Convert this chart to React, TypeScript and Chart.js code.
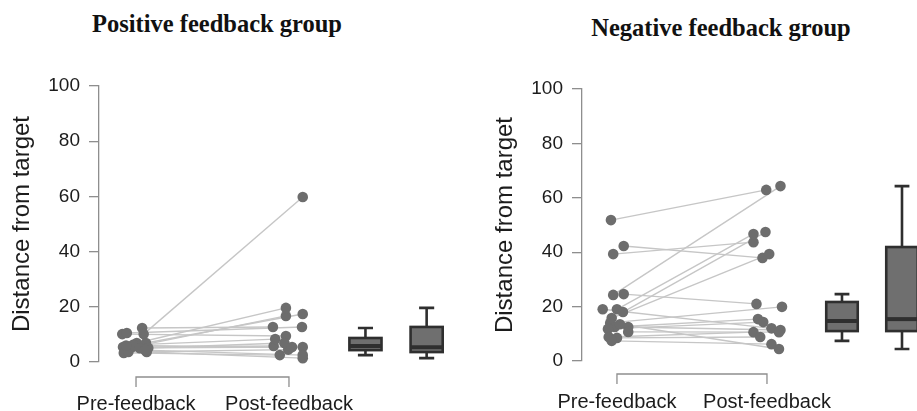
import React, { useEffect, useRef } from "react";
import { Chart, registerables } from "chart.js";

Chart.register(...registerables);

// ---------------- data ----------------
const categories = ["Pre-feedback", "Post-feedback"];
const yTicks = [0, 20, 40, 60, 80, 100];
const yLabel = "Distance from target";
const posTitle = "Positive feedback group";
const negTitle = "Negative feedback group";

// Positive feedback group (one entry per participant)
const posPre = [10.1, 10.5, 12.3, 10.1, 5.4, 3.3, 5.4, 6.9, 6.9, 5.1, 3.6, 3.6, 6.2, 5.0, 4.3, 6.0];
const posPost = [9.4, 12.7, 12.7, 59.8, 5.8, 2.5, 16.7, 19.6, 17.4, 5.4, 1.4, 4.5, 8.3, 6.9, 2.5, 5.4];
const posPreJitter = [-0.09, -0.06, 0.04, 0.05, -0.085, -0.08, -0.025, 0.005, 0.065, 0.08, 0.07, -0.05, -0.02, 0.025, 0.06, -0.065];
const posPostJitter = [-0.02, 0.085, -0.105, 0.09, -0.1, -0.06, -0.02, -0.02, 0.09, 0.09, 0.09, -0.005, -0.09, -0.03, 0.09, 0.02];
// box stats: [lower whisker, Q1, median, Q3, upper whisker]
const posPreBox = [2.5, 4.3, 5.8, 8.7, 12.3];
const posPostBox = [1.4, 3.6, 5.3, 12.7, 19.6];

// Negative feedback group
const negPre = [51.8, 24.3, 42.3, 39.3, 24.6, 19.0, 19.0, 18.0, 15.8, 14.0, 12.5, 11.8, 12.5, 10.7, 8.8, 8.5, 7.4, 13.5];
const negPost = [62.9, 64.3, 37.9, 43.7, 21.0, 12.0, 46.7, 47.4, 39.3, 19.9, 15.4, 14.3, 11.4, 10.6, 10.6, 8.8, 6.2, 4.4];
const negPreJitter = [-0.04, -0.025, 0.045, -0.025, 0.045, -0.095, 0, 0.04, -0.035, -0.045, -0.015, -0.06, 0.075, 0.075, -0.055, 0, -0.035, 0.02];
const negPostJitter = [-0.005, 0.09, -0.03, -0.09, -0.07, 0.03, -0.09, -0.01, 0.015, 0.1, -0.06, -0.025, 0.09, 0.08, -0.09, -0.045, 0.03, 0.08];
const negPreBox = [7.4, 11.0, 14.7, 21.7, 24.6];
const negPostBox = [4.4, 11.0, 15.4, 41.9, 64.3];

// ---------------- styles ----------------
const TEXT = "#1c1c1c";
const AXIS = "#8e8e8e";
const POINT = "#6d6d6d";
const LINE = "#c6c6c6";
const BOX_LINE = "#2f2f2f";
const BOX_FILL = "#6f6f6f";
const BOX_POS = [2.5, 2.9];
const BOX_W = 0.21;
const SANS = "'Liberation Sans', Arial, sans-serif";
const SERIF = "'Liberation Serif', 'Times New Roman', serif";

type PanelParams = {
  pre: number[];
  post: number[];
  preJ: number[];
  postJ: number[];
  boxes: number[][];
  xMin: number;
  xMax: number;
  padLeft: number;
  padTop: number;
  xHeight: number;
  labelPad: number;
  bracketGap: number;
};

function buildChart(canvas: HTMLCanvasElement, p: PanelParams) {
  const lineDatasets = p.pre.map((v, i) => ({
    data: [
      { x: 1 + p.preJ[i], y: v },
      { x: 2 + p.postJ[i], y: p.post[i] },
    ],
    showLine: true,
    borderColor: LINE,
    borderWidth: 1.4,
    pointRadius: 0,
    order: 2,
    clip: false as any,
  }));
  const points = [
    ...p.pre.map((v, i) => ({ x: 1 + p.preJ[i], y: v })),
    ...p.post.map((v, i) => ({ x: 2 + p.postJ[i], y: v })),
  ];
  const pointDataset = {
    data: points,
    showLine: false,
    pointRadius: 5.3,
    pointBackgroundColor: POINT,
    pointBorderWidth: 0,
    borderWidth: 0,
    order: 0,
    clip: false as any,
  };

  const boxPlugin = {
    id: "boxesAndBracket",
    afterDatasetsDraw(chart: any) {
      const { ctx, chartArea } = chart;
      const xs = chart.scales.x;
      const ys = chart.scales.y;
      ctx.save();
      // bracket under the categories
      const x1 = xs.getPixelForValue(1);
      const x2 = xs.getPixelForValue(2);
      const by = chartArea.bottom + p.bracketGap;
      ctx.strokeStyle = AXIS;
      ctx.lineWidth = 1.3;
      ctx.beginPath();
      ctx.moveTo(x1, by + 10);
      ctx.lineTo(x1, by);
      ctx.lineTo(x2, by);
      ctx.lineTo(x2, by + 10);
      ctx.stroke();
      // box plots
      p.boxes.forEach((stats, i) => {
        const cx = xs.getPixelForValue(BOX_POS[i]);
        const hw = xs.getPixelForValue(BOX_POS[i] + BOX_W / 2) - cx;
        const cw = hw * 0.47;
        const [lo, q1, med, q3, hi] = stats.map((v) => ys.getPixelForValue(v));
        ctx.strokeStyle = BOX_LINE;
        ctx.lineWidth = 2.6;
        ctx.beginPath();
        ctx.moveTo(cx, q3);
        ctx.lineTo(cx, hi);
        ctx.moveTo(cx - cw, hi);
        ctx.lineTo(cx + cw, hi);
        ctx.moveTo(cx, q1);
        ctx.lineTo(cx, lo);
        ctx.moveTo(cx - cw, lo);
        ctx.lineTo(cx + cw, lo);
        ctx.stroke();
        ctx.fillStyle = BOX_FILL;
        ctx.fillRect(cx - hw, q3, 2 * hw, q1 - q3);
        ctx.strokeRect(cx - hw, q3, 2 * hw, q1 - q3);
        ctx.lineWidth = 4;
        ctx.beginPath();
        ctx.moveTo(cx - hw, med);
        ctx.lineTo(cx + hw, med);
        ctx.stroke();
      });
      ctx.restore();
    },
  };

  return new Chart(canvas, {
    type: "scatter",
    data: { datasets: [pointDataset as any, ...(lineDatasets as any[])] },
    plugins: [boxPlugin],
    options: {
      responsive: false,
      animation: false,
      layout: { autoPadding: false, padding: { left: p.padLeft, top: p.padTop, right: 0, bottom: 0 } },
      plugins: { legend: { display: false }, tooltip: { enabled: false }, title: { display: false } },
      scales: {
        x: {
          type: "linear",
          min: p.xMin,
          max: p.xMax,
          afterBuildTicks: (s: any) => {
            s.ticks = [{ value: 1 }, { value: 2 }];
          },
          afterFit: (s: any) => {
            s.height = p.xHeight;
          },
          grid: { display: false, drawTicks: false },
          border: { display: false },
          ticks: {
            autoSkip: false,
            maxRotation: 0,
            padding: p.labelPad,
            color: TEXT,
            font: { family: SANS, size: 20 },
            callback: (v: any) => categories[Math.round(Number(v)) - 1] ?? "",
          },
        },
        y: {
          type: "linear",
          min: 0,
          max: 100,
          afterBuildTicks: (s: any) => {
            s.ticks = yTicks.map((v) => ({ value: v }));
          },
          afterFit: (s: any) => {
            s.width = 91;
          },
          border: { display: true, color: AXIS, width: 1.3 },
          grid: { drawOnChartArea: false, drawTicks: true, tickLength: 10, color: AXIS, lineWidth: 1.3 },
          ticks: { padding: 9, color: TEXT, font: { family: SANS, size: 19 } },
          title: {
            display: true,
            text: yLabel,
            color: TEXT,
            padding: 0,
            font: { family: SANS, size: 24, lineHeight: 1.2 },
          },
        },
      },
    },
  } as any);
}

export default function App() {
  const leftRef = useRef<HTMLCanvasElement>(null);
  const rightRef = useRef<HTMLCanvasElement>(null);

  useEffect(() => {
    const c1 = buildChart(leftRef.current!, {
      pre: posPre,
      post: posPost,
      preJ: posPreJitter,
      postJ: posPostJitter,
      boxes: [posPreBox, posPostBox],
      xMin: 0.758,
      xMax: 3.105,
      padLeft: 8,
      padTop: 86,
      xHeight: 49,
      labelPad: 30,
      bracketGap: 15,
    });
    const c2 = buildChart(rightRef.current!, {
      pre: negPre,
      post: negPost,
      preJ: negPreJitter,
      postJ: negPostJitter,
      boxes: [negPreBox, negPostBox],
      xMin: 0.767,
      xMax: 3.0,
      padLeft: 33,
      padTop: 89,
      xHeight: 50,
      labelPad: 29,
      bracketGap: 13,
    });
    return () => {
      c1.destroy();
      c2.destroy();
    };
  }, []);

  const titleStyle: React.CSSProperties = {
    position: "absolute",
    width: 400,
    textAlign: "center",
    fontFamily: SERIF,
    fontWeight: "bold",
    fontSize: 24.5,
    lineHeight: "24px",
    color: "#111",
    whiteSpace: "nowrap",
  };

  return (
    <div style={{ position: "absolute", left: 0, top: 0, width: 917, height: 411, overflow: "hidden", background: "#fff" }}>
      <div style={{ ...titleStyle, left: 217 - 200, top: 12 }}>{posTitle}</div>
      <div style={{ ...titleStyle, left: 721 - 200, top: 16 }}>{negTitle}</div>
      <canvas ref={leftRef} width={458} height={411} style={{ position: "absolute", left: 0, top: 0, width: 458, height: 411 }} />
      <canvas ref={rightRef} width={459} height={411} style={{ position: "absolute", left: 458, top: 0, width: 459, height: 411 }} />
    </div>
  );
}
